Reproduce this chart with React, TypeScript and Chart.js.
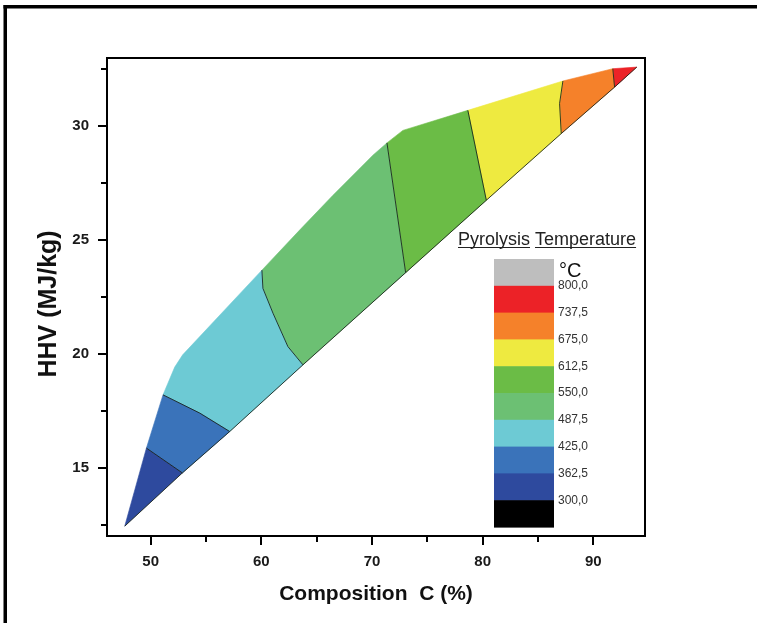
import React, { useEffect, useRef } from 'react';
import { Chart, registerables } from 'chart.js';

Chart.register(...registerables);

const FONT = "'Liberation Sans', Arial, Helvetica, sans-serif";

// Axis ranges and ticks
const xRange = [46.05, 94.67];
const yRange = [12.0, 33.0];
const xStep = 5;
const yStep = 2.5;
const xLabelEvery = 10;
const yLabelEvery = 5;

// Temperature bands (polygons in [C %, HHV MJ/kg])
const band300 = [[47.65, 12.43], [49.61, 15.86], [52.86, 14.77]];
const band362 = [[49.61, 15.86], [51.11, 18.2], [54.43, 17.4], [57.14, 16.59], [52.86, 14.77]];
const band425 = [[51.11, 18.2], [52.17, 19.42], [52.89, 19.96], [60.05, 23.68], [60.14, 22.88], [61.05, 21.79], [62.4, 20.32], [63.76, 19.52], [57.14, 16.59], [54.43, 17.4]];
const band487 = [[60.05, 23.68], [63.46, 25.44], [66.47, 26.97], [68.88, 28.14], [70.08, 28.73], [71.35, 29.27], [73.04, 23.57], [63.76, 19.52], [62.4, 20.32], [61.05, 21.79], [60.14, 22.88]];
const band550 = [[71.35, 29.27], [72.79, 29.82], [78.66, 30.7], [80.33, 26.75], [73.04, 23.57]];
const band612 = [[78.66, 30.7], [87.25, 31.99], [86.95, 31.0], [87.1, 29.68], [80.33, 26.75]];
const band675 = [[87.25, 31.99], [91.76, 32.53], [91.92, 31.72], [87.1, 29.68], [86.95, 31.0]];
const band737 = [[91.76, 32.53], [93.93, 32.6], [91.92, 31.72]];

const bands = [band300, band362, band425, band487, band550, band612, band675, band737];
const bandColors = ['#2E4A9E', '#3A73BA', '#6DCAD4', '#6CC073', '#6BBC46', '#EEEA40', '#F5812A', '#EC2227'];

// Contour lines between bands and the lower edge
const contour1 = [[49.61, 15.86], [52.86, 14.77]];
const contour2 = [[51.11, 18.2], [54.43, 17.4], [57.14, 16.59]];
const contour3 = [[60.05, 23.68], [60.14, 22.88], [61.05, 21.79], [62.4, 20.32], [63.76, 19.52]];
const contour4 = [[71.35, 29.27], [73.04, 23.57]];
const contour5 = [[78.66, 30.7], [80.33, 26.75]];
const contour6 = [[87.25, 31.99], [86.95, 31.0], [87.1, 29.68]];
const contour7 = [[91.76, 32.53], [91.92, 31.72]];
const lowerEdge = [[47.65, 12.43], [52.86, 14.77], [57.14, 16.59], [63.76, 19.52], [73.04, 23.57], [80.33, 26.75], [87.1, 29.68], [91.92, 31.72], [93.93, 32.6]];
const contours = [contour1, contour2, contour3, contour4, contour5, contour6, contour7, lowerEdge];

// Color-scale legend
const legendTitleWords = ['Pyrolysis', 'Temperature'];
const legendUnit = '°C';
const legendColors = ['#BEBEBE', '#EC2227', '#F5812A', '#EEEA40', '#6BBC46', '#6CC073', '#6DCAD4', '#3A73BA', '#2E4A9E', '#000000'];
const legendLabels = ['800,0', '737,5', '675,0', '612,5', '550,0', '487,5', '425,0', '362,5', '300,0'];

const xTitle = 'Composition  C (%)';
const yTitle = 'HHV (MJ/kg)  ';

const decorPlugin = {
  id: 'decor',
  beforeDraw(chart: any) {
    const ctx = chart.ctx;
    ctx.save();
    ctx.fillStyle = '#000';
    ctx.fillRect(3.5, 5, 760, 3.5);
    ctx.fillRect(3.5, 5, 3.5, 630);
    ctx.restore();
  },
  afterDraw(chart: any) {
    const ctx = chart.ctx;
    const a = chart.chartArea;
    const xs = chart.scales.x;
    const ys = chart.scales.y;
    ctx.save();
    ctx.strokeStyle = '#000';
    ctx.lineWidth = 2;
    // tick marks
    ctx.beginPath();
    xs.ticks.forEach((t: any) => {
      const px = Math.round(xs.getPixelForValue(t.value));
      const len = Math.abs(t.value % xLabelEvery) < 1e-6 ? 9 : 6;
      ctx.moveTo(px, a.bottom);
      ctx.lineTo(px, a.bottom + len);
    });
    ys.ticks.forEach((t: any) => {
      const py = Math.round(ys.getPixelForValue(t.value));
      const len = Math.abs(t.value % yLabelEvery) < 1e-6 ? 9 : 6;
      ctx.moveTo(a.left, py);
      ctx.lineTo(a.left - len, py);
    });
    ctx.stroke();
    // plot frame
    ctx.strokeRect(a.left, a.top, a.right - a.left, a.bottom - a.top);

    // legend
    const lx = 494, lw = 60, ltop = 259, lstep = 26.8;
    legendColors.forEach((c, i) => {
      ctx.fillStyle = c;
      ctx.fillRect(lx, ltop + i * lstep, lw, lstep + 0.6);
    });
    ctx.fillStyle = '#333';
    ctx.font = `12px ${FONT}`;
    ctx.textAlign = 'left';
    ctx.textBaseline = 'middle';
    legendLabels.forEach((l, i) => {
      ctx.fillText(l, 558, ltop + (i + 1) * lstep);
    });
    ctx.fillStyle = '#111';
    ctx.font = `20px ${FONT}`;
    ctx.textBaseline = 'alphabetic';
    ctx.fillText(legendUnit, 559, 277);

    ctx.font = `18px ${FONT}`;
    let tx = 458;
    const ty = 245;
    ctx.lineWidth = 1.2;
    ctx.strokeStyle = '#222';
    legendTitleWords.forEach((w) => {
      ctx.fillStyle = '#222';
      ctx.fillText(w, tx, ty);
      const ww = ctx.measureText(w).width;
      ctx.beginPath();
      ctx.moveTo(tx, ty + 2.5);
      ctx.lineTo(tx + ww, ty + 2.5);
      ctx.stroke();
      tx += ctx.measureText(w + ' ').width;
    });
    ctx.restore();
  },
};

export default function App() {
  const ref = useRef<HTMLCanvasElement>(null);
  useEffect(() => {
    if (!ref.current) return;
    const regionSets = bands.map((b, i) => ({
      data: b.map(([x, y]) => ({ x, y })),
      showLine: true,
      fill: 'shape',
      backgroundColor: bandColors[i],
      borderColor: bandColors[i],
      borderWidth: 0.6,
      pointRadius: 0,
      tension: 0,
      order: 2,
    }));
    const lineSets = contours.map((c) => ({
      data: c.map(([x, y]) => ({ x, y })),
      showLine: true,
      fill: false,
      borderColor: 'rgba(20,30,20,0.85)',
      borderWidth: 1,
      pointRadius: 0,
      tension: 0,
      order: 1,
    }));
    const tickFont = { family: FONT, size: 15, weight: 'bold' as const };
    const chart = new Chart(ref.current, {
      type: 'scatter',
      data: { datasets: [...lineSets, ...regionSets] as any },
      options: {
        animation: false,
        responsive: true,
        maintainAspectRatio: false,
        events: [],
        layout: { padding: { left: 0, top: 58, right: 112, bottom: 0 } },
        plugins: { legend: { display: false }, tooltip: { enabled: false } },
        scales: {
          x: {
            type: 'linear',
            min: xRange[0],
            max: xRange[1],
            grid: { display: false, drawTicks: false, tickLength: 0 },
            border: { display: false },
            ticks: {
              stepSize: xStep,
              includeBounds: false,
              autoSkip: false,
              maxRotation: 0,
              padding: 17,
              color: '#1a1a1a',
              font: tickFont,
              callback: (v: any) => (Math.abs(v % xLabelEvery) < 1e-6 ? String(v) : ''),
            },
            title: {
              display: true,
              text: xTitle,
              color: '#111',
              font: { family: FONT, size: 21, weight: 'bold' },
              padding: { top: 0, bottom: 16 },
            },
            afterFit: (s: any) => {
              s.height = 87;
            },
          },
          y: {
            type: 'linear',
            min: yRange[0],
            max: yRange[1],
            grid: { display: false, drawTicks: false, tickLength: 0 },
            border: { display: false },
            ticks: {
              stepSize: yStep,
              includeBounds: false,
              autoSkip: false,
              padding: 18,
              color: '#1a1a1a',
              font: tickFont,
              callback: (v: any) => (Math.abs(v % yLabelEvery) < 1e-6 ? String(v) : ''),
            },
            title: {
              display: true,
              text: yTitle,
              color: '#111',
              font: { family: FONT, size: 25, weight: 'bold' },
              padding: { top: 34, bottom: 0 },
            },
            afterFit: (s: any) => {
              s.width = 107;
            },
          },
        },
      } as any,
      plugins: [decorPlugin],
    });
    return () => chart.destroy();
  }, []);
  return (
    <div style={{ position: 'absolute', left: 0, top: 0, width: 757, height: 623, background: '#fff' }}>
      <canvas ref={ref} />
    </div>
  );
}
